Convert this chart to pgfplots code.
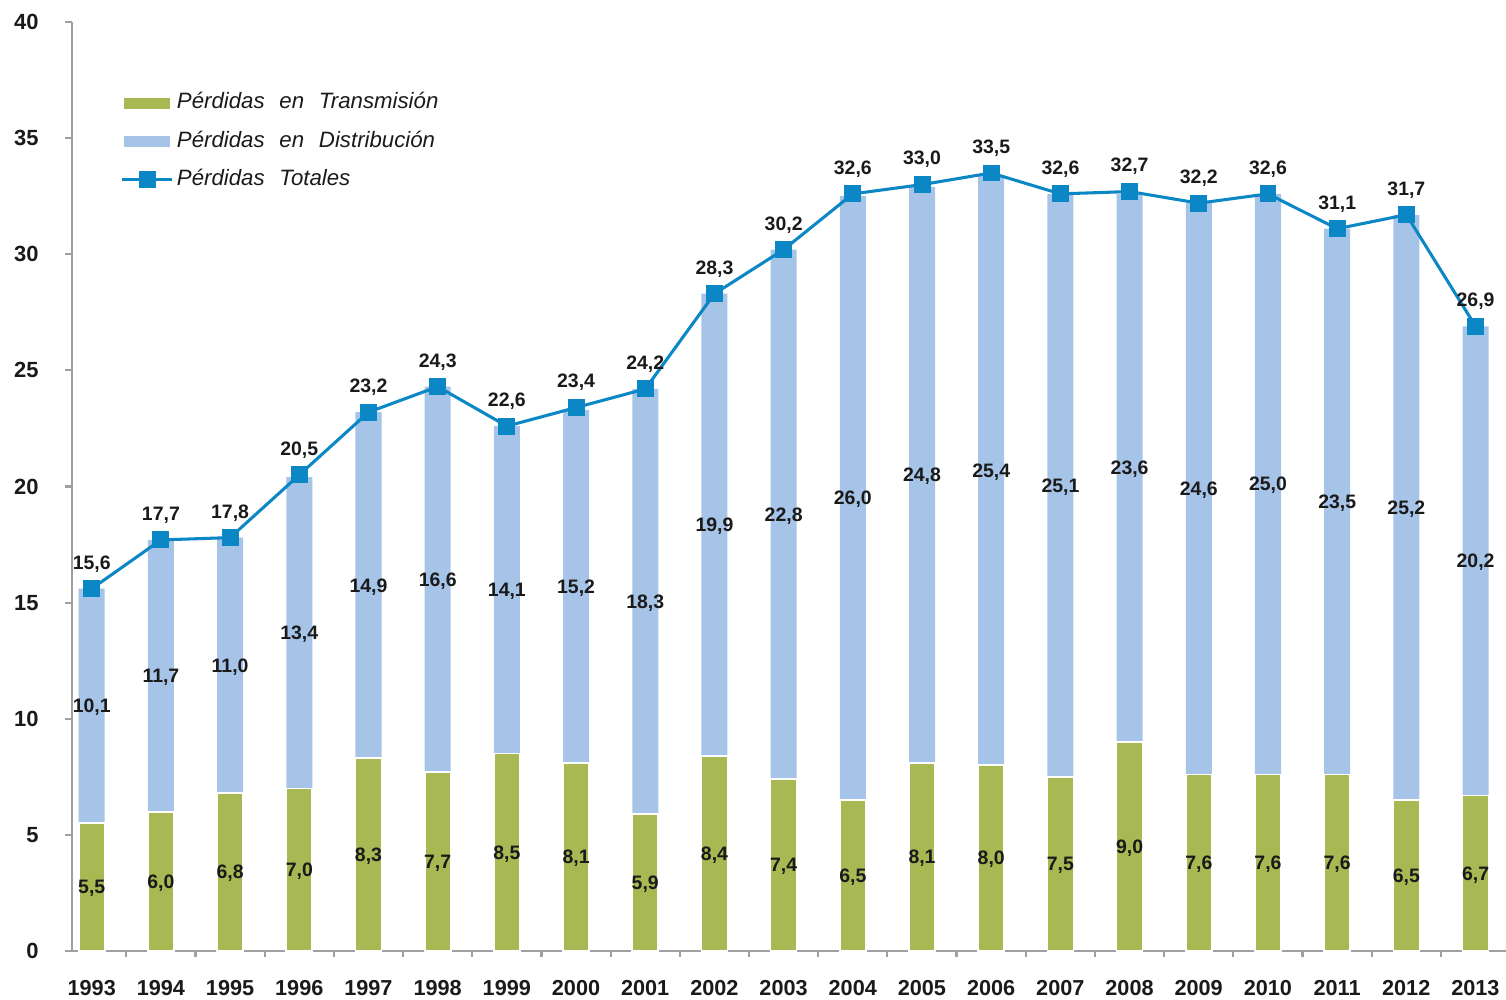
\documentclass[border=0pt]{standalone}
\usepackage{fontspec}
\setmainfont{Liberation Sans}
\newfontfamily\legfont[WordSpace=2.4]{Liberation Sans}
\usepackage{pgfplots}
\usepackage{pgfplotstable}
\pgfplotsset{compat=1.18}
\definecolor{cgreen}{RGB}{168,184,82}
\definecolor{cblue}{RGB}{166,195,232}
\definecolor{cline}{RGB}{10,135,196}
\definecolor{caxis}{RGB}{160,160,160}
\definecolor{ctext}{RGB}{26,26,26}

\pgfplotstableread{
x    T    D    Tot
1993 5.5  10.1 15.6
1994 6.0  11.7 17.7
1995 6.8  11.0 17.8
1996 7.0  13.4 20.5
1997 8.3  14.9 23.2
1998 7.7  16.6 24.3
1999 8.5  14.1 22.6
2000 8.1  15.2 23.4
2001 5.9  18.3 24.2
2002 8.4  19.9 28.3
2003 7.4  22.8 30.2
2004 6.5  26.0 32.6
2005 8.1  24.8 33.0
2006 8.0  25.4 33.5
2007 7.5  25.1 32.6
2008 9.0  23.6 32.7
2009 7.6  24.6 32.2
2010 7.6  25.0 32.6
2011 7.6  23.5 31.1
2012 6.5  25.2 31.7
2013 6.7  20.2 26.9
}\data

\pgfplotsset{/pgf/number format/assume math mode=true}
\tikzset{lbl/.style={font=\bfseries\fontsize{7}{8}\selectfont, text=ctext, anchor=center, text depth=0pt, inner sep=0pt}}
\pgfplotsset{
  lineleg/.style={legend image code/.code={\draw[##1, mark repeat=2, mark phase=2] plot coordinates {(0pt,0pt) (9pt,0pt) (18pt,0pt)};}},
  greenleg/.style={legend image code/.code={\fill[cgreen] (0.9pt,-1.8pt) rectangle (17.1pt,1.8pt);}},
  blueleg/.style={legend image code/.code={\fill[cblue] (0.9pt,-1.8pt) rectangle (17.1pt,1.8pt);}},
}

\begin{document}
\begin{tikzpicture}
\useasboundingbox (-25.92pt,-17.28pt) rectangle (516.24pt,342.36pt);
\begin{axis}[
  scale only axis,
  width=516.24pt, height=334.44pt,
  xmin=1992.715, xmax=2013.44,
  ymin=0, ymax=40,
  clip=false,
  axis x line*=bottom, axis y line*=left,
  axis line style={caxis, line width=0.8pt},
  xtick={1993,1994,...,2013},
  minor xtick={1993.5,1994.5,...,2012.5},
  ytick={0,5,...,40},
  tick align=outside,
  major tick length=2.5pt,
  minor tick length=2.2pt,
  tick style={caxis, line width=0.8pt},
  major x tick style={draw=none},
  x tick label style={font=\bfseries\fontsize{7.8}{9}\selectfont, text=ctext, yshift=-4.6pt, /pgf/number format/1000 sep={}},
  y tick label style={font=\bfseries\fontsize{7.9}{9}\selectfont, text=ctext, xshift=-6pt},
  legend style={at={(axis description cs:0.0335,0.931)}, anchor=north west, draw=none, fill=none,
    font=\legfont\itshape\fontsize{8}{9}\selectfont, text=ctext, inner sep=0pt, row sep=1.9pt,
    nodes={text height=5.6pt, text depth=1.5pt, inner ysep=2.4pt, inner xsep=1.2pt}},
  legend cell align=left,
]
% distribution (full bar, drawn first)
\addplot[ybar, bar width=0.376, bar shift=0pt, fill=cblue, draw=none, forget plot]
  table[x=x, y expr=\thisrow{T}+\thisrow{D}] {\data};
% transmission
\addplot[ybar, bar width=0.376, bar shift=0pt, fill=cgreen, draw=white, line width=0.6pt, forget plot]
  table[x=x, y=T] {\data};

% labels transmission
\addplot[only marks, mark=*, mark size=0pt, mark options={draw=none, fill=none}, forget plot,
  point meta=explicit,
  nodes near coords={\pgfmathprintnumber[fixed, fixed zerofill, precision=1, use comma]{\pgfplotspointmeta}},
  every node near coord/.style={lbl}]
  table[x=x, y expr=\thisrow{T}/2, meta=T] {\data};
% labels distribution
\addplot[only marks, mark=*, mark size=0pt, mark options={draw=none, fill=none}, forget plot,
  point meta=explicit,
  nodes near coords={\pgfmathprintnumber[fixed, fixed zerofill, precision=1, use comma]{\pgfplotspointmeta}},
  every node near coord/.style={lbl}]
  table[x=x, y expr=\thisrow{T}+\thisrow{D}/2, meta=D] {\data};

% legend entries for bars
\addlegendimage{greenleg}
\addlegendentry{Pérdidas en Transmisión}
\addlegendimage{blueleg}
\addlegendentry{Pérdidas en Distribución}

% totals line
\addplot[cline, line width=1.1pt, mark=square*, mark size=2.5pt, mark options={fill=cline, draw=cline},
  point meta=explicit,
  nodes near coords={\pgfmathprintnumber[fixed, fixed zerofill, precision=1, use comma]{\pgfplotspointmeta}},
  every node near coord/.style={lbl, yshift=9.5pt},
  lineleg]
  table[x=x, y=Tot, meta=Tot] {\data};
\addlegendentry{Pérdidas Totales}
\end{axis}
\end{tikzpicture}
\end{document}
